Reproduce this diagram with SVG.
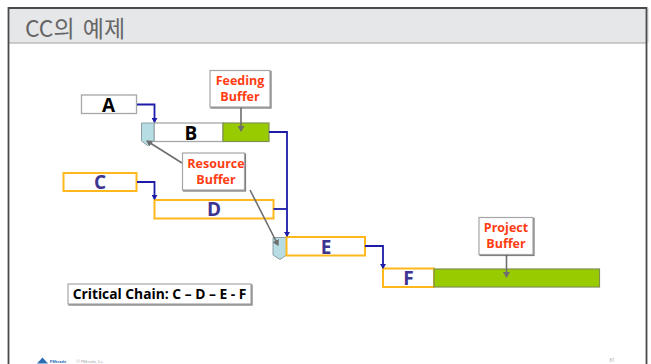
<svg xmlns="http://www.w3.org/2000/svg" width="651" height="364" viewBox="0 0 651 364">
<style>
text{font-family:"Open Sans","Noto Sans CJK KR",sans-serif;text-anchor:middle}
.task{fill:#fff;stroke:#a6a6a6;stroke-width:1.3}
.crit{fill:#fff;stroke:#ffb81c;stroke-width:2}
.buf{fill:#99cc00;stroke:#7f8f50;stroke-width:1.2}
.rb{fill:#b7dde4;stroke:#8c9ea3;stroke-width:1}
.call{fill:#fff;stroke:#a6a6a6;stroke-width:1.2;filter:url(#sh)}
.b{font-size:19px;font-weight:700;fill:#000}
.c{font-size:19px;font-weight:700;fill:#3d3591}
.r{font-size:12.5px;font-weight:700;fill:#ff3c12}
.l{fill:none;stroke:#1c1ca8;stroke-width:1.8;marker-end:url(#a)}
.l2{fill:none;stroke:#1c1ca8;stroke-width:1.8}
.g{stroke:#6e6e6e;stroke-width:1.6;fill:none;marker-end:url(#g)}
</style>
<defs>
<marker id="a" markerWidth="6" markerHeight="6" refX="4" refY="3" orient="auto" markerUnits="userSpaceOnUse"><path d="M0 0L5 3L0 6z" fill="#1c1ca8"/></marker>
<marker id="g" markerWidth="7" markerHeight="7" refX="5" refY="3.5" orient="auto" markerUnits="userSpaceOnUse"><path d="M0 0L6 3.5L0 7z" fill="#6e6e6e"/></marker>
<filter id="sh" x="-10%" y="-10%" width="120%" height="120%"><feDropShadow dx="1" dy="1" stdDeviation="0.5" flood-color="#555" flood-opacity="0.8"/></filter>
</defs>
<rect width="651" height="364" fill="#fff"/>
<g id="frame">
<rect x="9" y="8.500" width="640" height="34.500" fill="#e6e7e9"/>
<path d="M9 43H647" stroke="#bdbdbd" stroke-width="1.500"/>
<path d="M8.500 364V8H646.500V364" fill="none" stroke="#4a4a4a" stroke-width="1.800"/>
<text x="75" y="37" style="font-size:23px;fill:#666;word-spacing:3px;font-family:'Noto Sans CJK KR','Open Sans',sans-serif">CC의 예제</text>
</g>
<g id="node-A"><rect class="task" x="81.500" y="95" width="55" height="18.500"/><text class="b" x="108.500" y="112">A</text></g>
<g id="node-B"><rect class="task" x="154" y="123" width="69" height="18.500"/><text class="b" x="191" y="139.500">B</text></g>
<g id="node-FB"><rect class="buf" x="223" y="123" width="46" height="18.500"/></g>
<g id="node-RB1"><path class="rb" d="M141.500 123H154V141L147.500 145.500L141.500 141Z"/></g>
<g id="node-C"><rect class="crit" x="63.500" y="173" width="73" height="18"/><text class="c" x="100" y="189">C</text></g>
<g id="node-D"><rect class="crit" x="154.500" y="200" width="119" height="18.500"/><text class="c" x="214" y="216">D</text></g>
<g id="node-RB2"><path class="rb" d="M273 237.500H286.500V255L280 259.500L273 255Z"/></g>
<g id="node-E"><rect class="crit" x="286.500" y="237" width="78.500" height="18.500"/><text class="c" x="326" y="253.500">E</text></g>
<g id="node-F"><rect class="crit" x="383" y="268.500" width="51" height="18.500"/><text class="c" x="408.500" y="285">F</text></g>
<g id="node-PB"><rect class="buf" x="434" y="269" width="165.500" height="18"/></g>
<g id="connectors">
<path class="l" d="M137 104.500H154.500V122"/>
<path class="l" d="M269 132H287V236"/>
<path class="l2" d="M273.500 209H287"/>
<path class="l" d="M137 182H154.500V199"/>
<path class="l" d="M365 246H383V268"/>
<path class="g" d="M241 107V131"/>
<path class="g" d="M182 163L147 141"/>
<path class="g" d="M250 190L278 245"/>
<path class="g" d="M506.500 255V277"/>
</g>
<g id="note-feeding"><rect class="call" x="210" y="70.500" width="60" height="36.500"/><text class="r" x="240" y="85">Feeding</text><text class="r" x="240" y="101">Buffer</text></g>
<g id="note-resource"><rect class="call" x="182.500" y="153" width="62" height="37"/><text class="r" x="216" y="168">Resource</text><text class="r" x="216" y="184">Buffer</text></g>
<g id="note-project"><rect class="call" x="479" y="217.500" width="54" height="37"/><text class="r" x="506" y="232">Project</text><text class="r" x="506" y="248">Buffer</text></g>
<g id="note-critical"><rect class="call" x="68" y="284" width="183" height="20"/><text x="159.500" y="299" style="font-size:13.800px;font-weight:700;fill:#000">Critical Chain: C – D – E - F</text></g>
<g id="footer">
<path d="M37 363.500L42.500 357.500L48 363.500Z" fill="#2a6db5"/>
<text x="58" y="362.500" style="font-size:3.800px;font-weight:700;fill:#2a6db5">PMtrade</text>
<text x="90" y="362.500" style="font-size:3.800px;fill:#999">© PMtrade, Co.</text>
<text x="612" y="362" style="font-size:4.500px;fill:#999">61</text>
</g>
</svg>
